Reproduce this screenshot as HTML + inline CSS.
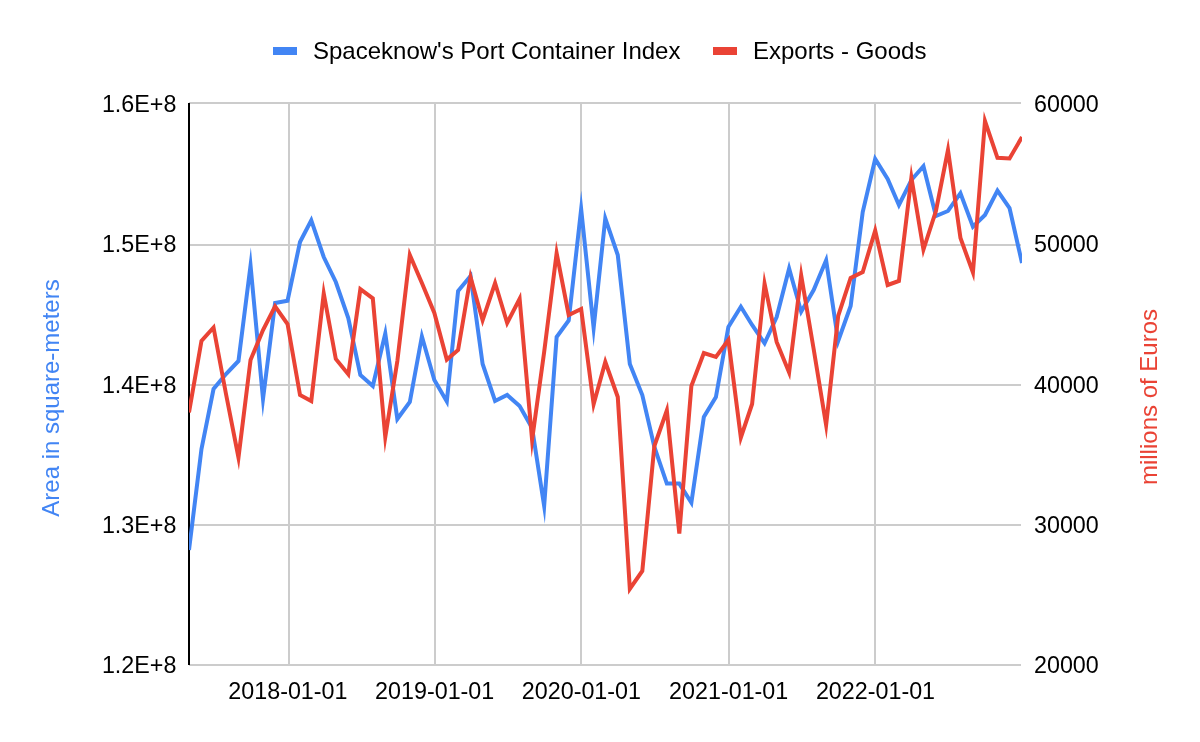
<!DOCTYPE html>
<html><head><meta charset="utf-8"><title>chart</title>
<style>
html,body{margin:0;padding:0;background:#fff;}
body{width:1200px;height:742px;overflow:hidden;position:relative;font-family:"Liberation Sans",sans-serif;}
svg{position:absolute;left:0;top:0;display:block;will-change:transform;}
text{font-family:"Liberation Sans",sans-serif;}
</style></head><body>
<svg width="1200" height="742" viewBox="0 0 1200 742">
<rect x="0" y="0" width="1200" height="742" fill="#ffffff"/>
<g fill="#cccccc">
<rect x="189" y="102" width="832" height="2"/>
<rect x="189" y="244" width="832" height="2"/>
<rect x="189" y="384" width="832" height="2"/>
<rect x="189" y="524" width="832" height="2"/>
<rect x="189" y="664" width="832" height="2"/>
<rect x="288" y="103" width="2" height="562"/>
<rect x="434" y="103" width="2" height="562"/>
<rect x="580" y="103" width="2" height="562"/>
<rect x="728" y="103" width="2" height="562"/>
<rect x="874" y="103" width="2" height="562"/>
</g>
<rect x="188" y="103" width="2" height="562" fill="#000000"/>
<clipPath id="c"><rect x="189" y="103" width="833" height="563"/></clipPath>
<g clip-path="url(#c)" fill="none" stroke-width="4" stroke-linejoin="miter" stroke-miterlimit="10" stroke-linecap="butt">
<path d="M189.00,550.00 L201.47,449.00 L213.54,389.00 L226.00,374.00 L238.47,361.00 L250.54,265.60 L263.01,399.00 L275.08,303.00 L287.54,300.70 L300.01,242.00 L311.27,220.30 L323.74,257.00 L335.81,282.00 L348.28,318.00 L360.35,375.00 L372.81,386.00 L385.28,333.50 L397.35,419.00 L409.82,402.00 L421.89,336.40 L434.35,380.00 L446.82,401.50 L458.09,291.00 L470.55,276.00 L482.62,364.00 L495.09,401.00 L507.16,395.00 L519.62,406.00 L532.09,428.00 L544.16,506.00 L556.63,337.00 L568.70,320.50 L581.16,209.00 L593.63,328.00 L605.30,218.40 L617.77,255.00 L629.83,364.00 L642.30,395.00 L654.37,447.00 L666.84,483.60 L679.31,483.60 L691.37,502.70 L703.84,417.00 L715.91,397.00 L728.38,327.00 L740.85,306.80 L752.11,325.00 L764.58,343.30 L776.64,317.00 L789.11,268.50 L801.18,311.70 L813.65,290.00 L826.12,260.30 L838.18,341.00 L850.65,306.00 L862.72,212.00 L875.19,159.00 L887.66,179.00 L898.92,205.00 L911.39,180.00 L923.45,166.20 L935.92,216.00 L947.99,211.00 L960.46,193.20 L972.93,226.60 L984.99,215.00 L997.46,190.60 L1009.53,208.00 L1022.00,263.00" stroke="#4285f4"/>
<path d="M189.00,412.50 L201.47,341.00 L213.54,327.50 L226.00,394.00 L238.47,457.50 L250.54,360.00 L263.01,330.00 L275.08,306.30 L287.54,324.00 L300.01,395.00 L311.27,401.00 L323.74,293.50 L335.81,359.00 L348.28,374.20 L360.35,289.10 L372.81,298.40 L385.28,437.00 L397.35,361.00 L409.82,255.00 L421.89,283.00 L434.35,313.00 L446.82,359.60 L458.09,350.00 L470.55,277.00 L482.62,320.20 L495.09,283.00 L507.16,323.00 L519.62,298.80 L532.09,440.00 L544.16,352.00 L556.63,253.20 L568.70,315.00 L581.16,309.00 L593.63,404.30 L605.30,362.00 L617.77,397.00 L629.83,589.00 L642.30,571.00 L654.37,446.00 L666.84,410.50 L679.31,533.60 L691.37,386.00 L703.84,353.00 L715.91,357.00 L728.38,340.00 L740.85,437.50 L752.11,404.00 L764.58,283.70 L776.64,342.00 L789.11,372.50 L801.18,275.30 L813.65,349.00 L826.12,425.00 L838.18,316.00 L850.65,278.00 L862.72,272.00 L875.19,230.60 L887.66,285.00 L898.92,281.00 L911.39,177.50 L923.45,249.50 L935.92,211.00 L947.99,150.00 L960.46,238.00 L972.93,272.50 L984.99,121.00 L997.46,157.80 L1009.53,158.40 L1022.00,137.00" stroke="#ea4335"/>
</g>
<g font-size="23.3" fill="#000000">
<rect x="273" y="47" width="24" height="8" fill="#4285f4"/>
<text x="313" y="59.3" font-size="24">Spaceknow's Port Container Index</text>
<rect x="713" y="47" width="24" height="8" fill="#ea4335"/>
<text x="753" y="59.3" font-size="24">Exports - Goods</text>
<g text-anchor="end">
<text x="176.4" y="112">1.6E+8</text>
<text x="176.4" y="252.25">1.5E+8</text>
<text x="176.4" y="392.5">1.4E+8</text>
<text x="176.4" y="532.75">1.3E+8</text>
<text x="176.4" y="673">1.2E+8</text>
</g>
<g text-anchor="start">
<text x="1034" y="112">60000</text>
<text x="1034" y="252.25">50000</text>
<text x="1034" y="392.5">40000</text>
<text x="1034" y="532.75">30000</text>
<text x="1034" y="673">20000</text>
</g>
<g text-anchor="middle">
<text x="287.9" y="698.8">2018-01-01</text>
<text x="434.7" y="698.8">2019-01-01</text>
<text x="581.4" y="698.8">2020-01-01</text>
<text x="728.7" y="698.8">2021-01-01</text>
<text x="875.5" y="698.8">2022-01-01</text>
</g>
<text transform="translate(59,398) rotate(-90)" text-anchor="middle" font-size="24" fill="#4285f4">Area in square-meters</text>
<text transform="translate(1156.5,397) rotate(-90)" text-anchor="middle" font-size="24" fill="#ea4335">millions of Euros</text>
</g>
</svg>
</body></html>
